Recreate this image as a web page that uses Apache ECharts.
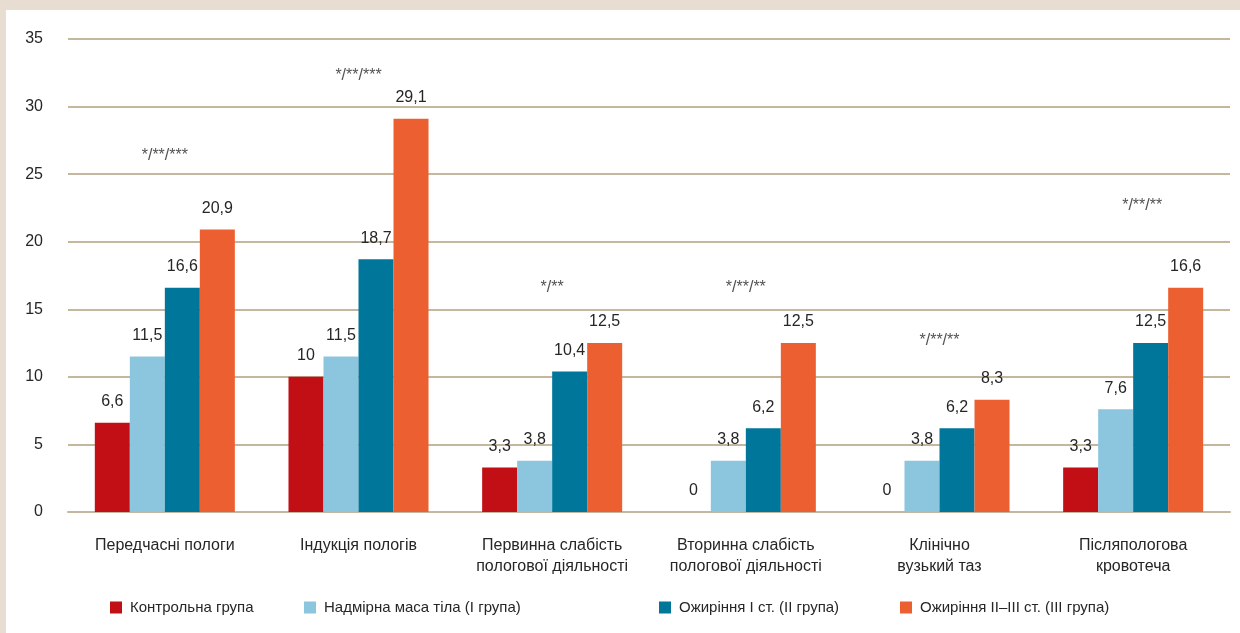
<!DOCTYPE html>
<html>
<head>
<meta charset="utf-8">
<script src="https://cdn.jsdelivr.net/npm/echarts@6/dist/echarts.min.js"></script>
<style>
html,body{margin:0;padding:0;background:#e7ddd0;width:1240px;height:633px;overflow:hidden}
#wrap{position:absolute;left:6px;top:10px;width:1234px;height:623px;background:#fff}
#chart{position:absolute;left:-6px;top:-10px;width:1240px;height:633px}
</style>
</head>
<body>
<div id="wrap"><div id="chart"></div></div>
<script>
const categories = [
  'Передчасні пологи',
  'Індукція пологів',
  'Первинна слабість\nпологової діяльності',
  'Вторинна слабість\nпологової діяльності',
  'Клінічно\nвузький таз',
  'Післяпологова\nкровотеча'
];
const seriesNames = [
  'Контрольна група',
  'Надмірна маса тіла (І група)',
  'Ожиріння І ст. (ІІ група)',
  'Ожиріння ІІ–ІІІ ст. (ІІІ група)'
];
const control = [6.6, 10, 3.3, 0, 0, 3.3];
const overweight = [11.5, 11.5, 3.8, 3.8, 3.8, 7.6];
const obesity1 = [16.6, 18.7, 10.4, 6.2, 6.2, 12.5];
const obesity23 = [20.9, 29.1, 12.5, 12.5, 8.3, 16.6];
const significance = ['*/**/***', '*/**/***', '*/**', '*/**/**', '*/**/**', '*/**/**'];
const significanceLevel = [26.4, 32.3, 16.6, 16.6, 12.7, 22.7];
const yTicks = [0, 5, 10, 15, 20, 25, 30, 35];

const colors = ['#c10f15', '#8bc6de', '#00779a', '#ec5f31'];
const FONT = '"Liberation Sans", Arial, sans-serif';
const TXT = '#262626';

const chart = echarts.init(document.getElementById('chart'), null, {renderer: 'canvas'});
const fmt = p => String(p.value).replace('.', ',');
const values = [control, overweight, obesity1, obesity23];

const barSeries = values.map((arr, i) => ({
  name: seriesNames[i],
  type: 'bar',
  data: arr,
  barGap: '0%',
  barCategoryGap: '27.7%',
  itemStyle: {color: colors[i]},
  label: {
    show: true, position: 'top', distance: 13,
    formatter: fmt, color: TXT, fontSize: 16, fontFamily: FONT
  }
}));

const legendLefts = [110, 304, 659, 900];
const legends = seriesNames.map((n, i) => ({
  data: [n], left: legendLefts[i], top: 600, padding: 0,
  itemWidth: 12, itemHeight: 12, icon: 'rect',
  textStyle: {color: TXT, fontSize: 15, fontFamily: FONT, padding: [0, 0, 0, 3]}
}));

chart.setOption({
  animation: false,
  backgroundColor: 'transparent',
  legend: legends,
  grid: {left: 68, right: 10, top: 39, bottom: 121, containLabel: false},
  xAxis: {
    type: 'category',
    data: categories,
    axisLine: {show: true, lineStyle: {color: '#c5b79d', width: 2}},
    axisTick: {show: false},
    axisLabel: {color: TXT, fontSize: 16, fontFamily: FONT, margin: 23, lineHeight: 21, interval: 0}
  },
  yAxis: {
    type: 'value', min: 0, max: 35, interval: 5,
    axisLine: {show: false}, axisTick: {show: false},
    axisLabel: {color: TXT, fontSize: 16, fontFamily: FONT, margin: 25, padding: [4, 0, 0, 0],
      formatter: v => yTicks.includes(v) ? String(v) : ''},
    splitLine: {show: true, lineStyle: {color: '#c5b79d', width: 2}}
  },
  series: barSeries.concat([{
    type: 'scatter',
    name: 'significance',
    data: significanceLevel.map((v, i) => i === 5
      ? {value: v, label: {offset: [9, 0]}}
      : v),
    symbolSize: 0,
    silent: true,
    label: {
      show: true, position: 'inside',
      formatter: p => significance[p.dataIndex],
      color: TXT, fontSize: 16, fontFamily: FONT
    },
    z: 5
  }])
});
</script>
</body>
</html>
